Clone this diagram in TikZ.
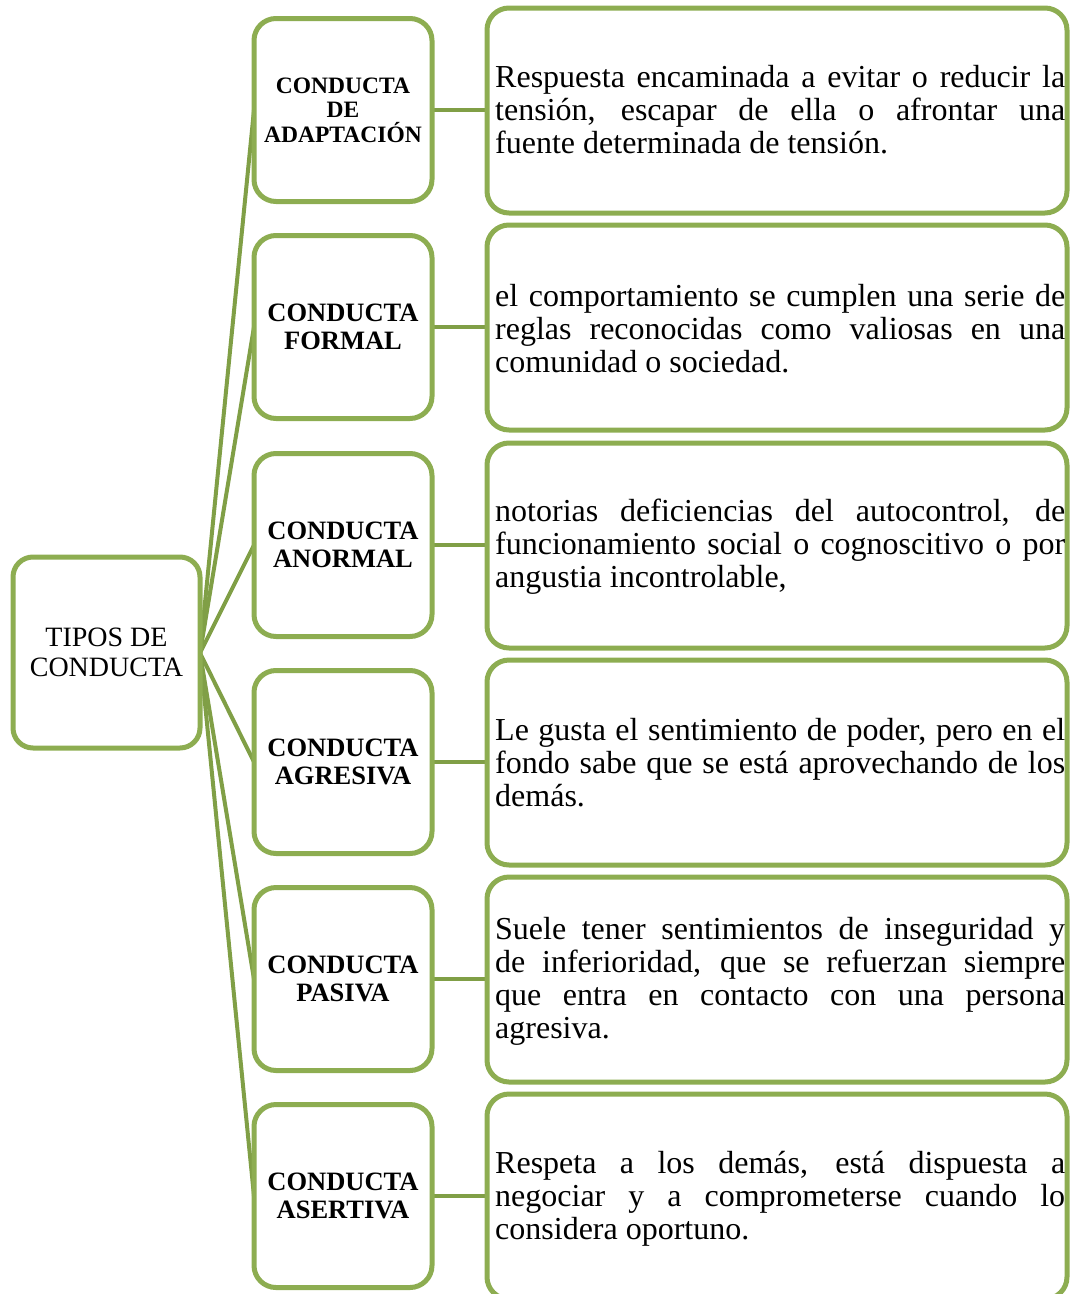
\documentclass[tikz,border=0pt]{standalone}
\usepackage{fontspec}
\setmainfont{Liberation Serif}
\definecolor{boxgreen}{RGB}{141,173,81}
\definecolor{linegreen}{RGB}{128,159,70}
\tolerance=10000
\hyphenpenalty=10000
\exhyphenpenalty=10000
\begin{document}
\begin{tikzpicture}[x=1pt,y=-1pt,
  rootbox/.style={draw=boxgreen,line width=5pt,fill=white,rounded corners=20pt,
    minimum width=187pt,minimum height=191pt,inner sep=0pt,align=center,
    font=\fontsize{28}{29.5}\selectfont},
  midbox/.style={draw=boxgreen,line width=5pt,fill=white,rounded corners=22pt,
    minimum width=178pt,minimum height=183pt,inner sep=0pt,align=center,
    font=\bfseries\fontsize{26.5}{28}\selectfont},
  smallmid/.style={font=\bfseries\fontsize{23.5}{24.5}\selectfont},
  rightbox/.style={draw=boxgreen,line width=5pt,fill=white,rounded corners=22pt,
    minimum width=580pt,minimum height=205pt,inner sep=0pt},
  desc/.style={anchor=west,inner sep=0pt,text width=570pt,align=justify,
    font=\fontsize{32}{33}\selectfont},
  conn/.style={draw=linegreen,line width=4pt}]
\useasboundingbox (0,0) rectangle (1071,1294);
\clip (0,0) rectangle (1071,1294);

% connectors drawn first (boxes cover them)
\coordinate (rootE) at (200,653);
\foreach \i/\y in {1/110,2/327,3/545,4/762,5/979,6/1196}{
  \coordinate (mw\i) at (254,\y);
  \draw[conn] (rootE) -- (mw\i);
  \coordinate (me\i) at (432,\y);
  \coordinate (rw\i) at (487,\y);
  \draw[conn] (me\i) -- (rw\i);
}

\node[rootbox] (root) at (106.5,652.5) {TIPOS DE\\CONDUCTA};

\node[midbox,smallmid] (m1) at (343,110) {CONDUCTA\\DE\\ADAPTACIÓN};
\node[midbox] (m2) at (343,327) {CONDUCTA\\FORMAL};
\node[midbox] (m3) at (343,545) {CONDUCTA\\ANORMAL};
\node[midbox] (m4) at (343,762) {CONDUCTA\\AGRESIVA};
\node[midbox] (m5) at (343,979) {CONDUCTA\\PASIVA};
\node[midbox] (m6) at (343,1196) {CONDUCTA\\ASERTIVA};

\node[rightbox] (r1) at (777,110.5) {};
\node[rightbox] (r2) at (777,327.5) {};
\node[rightbox] (r3) at (777,545.5) {};
\node[rightbox] (r4) at (777,762.5) {};
\node[rightbox] (r5) at (777,979.5) {};
\node[rightbox] (r6) at (777,1196.5) {};

\node[desc] (t1) at (495,110) {Respuesta encaminada a evitar o reducir la\linebreak tensión, escapar de ella o afrontar una\linebreak fuente determinada de tensión.};
\node[desc] (t2) at (495,329) {el comportamiento se cumplen una serie de\linebreak reglas reconocidas como valiosas en una\linebreak comunidad o sociedad.};
\node[desc] (t3) at (495,547) {notorias deficiencias del autocontrol, de\linebreak funcionamiento social o cognoscitivo o por\linebreak angustia incontrolable,};
\node[desc] (t4) at (495,763) {Le gusta el sentimiento de poder, pero en el\linebreak fondo sabe que se está aprovechando de los\linebreak demás.};
\node[desc] (t5) at (495,981) {Suele tener sentimientos de inseguridad y\linebreak de inferioridad, que se refuerzan siempre\linebreak que entra en contacto con una persona\linebreak agresiva.};
\node[desc] (t6) at (495,1199) {Respeta a los demás, está dispuesta a\linebreak negociar y a comprometerse cuando lo\linebreak considera oportuno.};
\end{tikzpicture}
\end{document}
